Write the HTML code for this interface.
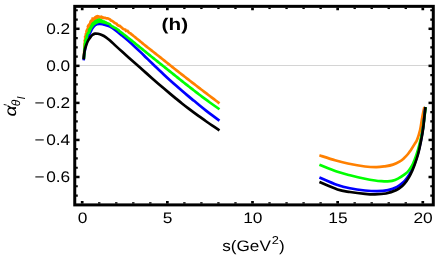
<!DOCTYPE html>
<html><head><meta charset="utf-8"><title>plot</title>
<style>
html,body{margin:0;padding:0;background:#fff;}
body{width:436px;height:262px;overflow:hidden;}
svg{display:block;}
text{font-family:"Liberation Sans",sans-serif;fill:#000;}
</style></head><body>
<svg width="436" height="262" viewBox="0 0 436 262" style="will-change:transform;opacity:0.999" text-rendering="geometricPrecision">
<rect x="0" y="0" width="436" height="262" fill="#fff"/>
<line x1="74.75" y1="65.5" x2="433.3" y2="65.5" stroke="#d4d4d4" stroke-width="1"/>
<g fill="none" stroke-width="2.7" stroke-linecap="butt" stroke-linejoin="round">
<path d="M83.80 58.80 L83.88 57.50 L83.95 56.20 L84.03 54.91 L84.11 53.61 L84.18 52.31 L84.25 51.01 L84.32 49.71 L84.38 48.42 L84.45 47.12 L84.54 45.82 L84.63 44.52 L84.66 43.22 L84.97 41.95 L84.70 40.61 L85.23 39.36 L85.24 38.04 L85.16 36.69 L85.97 35.54 L85.82 34.15 L86.57 33.01 L86.47 31.65 L86.78 30.39 L87.44 29.21 L88.20 28.07 L87.87 26.60 L88.42 25.40 L89.34 24.37 L90.21 23.37 L90.48 22.05 L91.04 20.86 L92.34 20.30 L92.62 18.68 L94.20 18.64 L95.00 17.45 L96.10 16.67 L97.41 16.21 L98.79 16.43 L100.01 17.15 L101.41 16.71 L102.59 17.43 L103.83 17.81 L105.16 17.88 L106.35 18.45 L107.76 18.37 L108.99 18.85 L110.12 19.55 L111.02 20.64 L112.26 21.09 L113.41 21.71 L114.32 22.70 L115.47 23.31 L116.65 23.89 L117.44 25.05 L118.58 25.68 L119.94 25.98 L120.82 27.00 L121.93 27.68 L122.80 28.72 L123.98 29.30 L125.33 29.62 L125.98 30.97 L127.57 30.96 L128.44 31.98 L129.35 32.94 L130.59 33.46 L131.52 34.38 L132.58 35.14 L133.56 35.99 L134.58 36.79 L135.60 37.61 L136.60 38.43 L137.61 39.25 L138.61 40.08 L139.62 40.90 L140.62 41.73 L141.63 42.55 L142.63 43.38 L143.64 44.20 L144.65 45.02 L145.66 45.84 L146.67 46.65 L147.69 47.46 L148.72 48.26 L149.74 49.06 L150.77 49.86 L151.79 50.66 L152.81 51.47 L153.83 52.27 L154.85 53.08 L155.87 53.89 L156.89 54.69 L157.91 55.50 L158.92 56.31 L159.94 57.12 L160.96 57.93 L161.97 58.74 L162.99 59.55 L164.01 60.36 L165.02 61.17 L166.04 61.98 L167.05 62.80 L168.07 63.61 L169.08 64.42 L170.10 65.23 L171.11 66.04 L172.13 66.86 L173.14 67.67 L174.16 68.48 L175.18 69.29 L176.20 70.09 L177.22 70.90 L178.25 71.69 L179.27 72.49 L180.30 73.29 L181.33 74.09 L182.35 74.88 L183.38 75.68 L184.41 76.48 L185.43 77.28 L186.46 78.07 L187.49 78.87 L188.51 79.67 L189.54 80.47 L190.57 81.26 L191.60 82.06 L192.62 82.85 L193.65 83.65 L194.68 84.44 L195.71 85.24 L196.74 86.03 L197.77 86.82 L198.80 87.62 L199.83 88.41 L200.86 89.20 L201.90 89.99 L202.93 90.78 L203.96 91.57 L204.99 92.36 L206.03 93.15 L207.06 93.94 L208.09 94.72 L209.13 95.51 L210.16 96.30 L211.20 97.08 L212.24 97.87 L213.28 98.65 L214.32 99.43 L215.36 100.21 L216.40 100.99 L217.44 101.77 L218.48 102.55 L219.50 103.32" stroke="#ff8000" stroke-linejoin="miter"/>
<path d="M87.60 33.00 C87.82 32.25 88.40 29.90 88.90 28.50 C89.40 27.10 89.92 25.85 90.60 24.60 C91.28 23.35 92.10 21.98 93.00 21.00 C93.90 20.02 95.08 19.28 96.00 18.70 C96.92 18.12 97.67 17.70 98.50 17.50 C99.33 17.30 100.08 17.43 101.00 17.50 C101.92 17.57 103.50 17.83 104.00 17.90" stroke="#ff8000"/>
<path d="M83.70 60.30 C83.85 58.92 84.25 54.55 84.60 52.00 C84.95 49.45 85.30 47.25 85.80 45.00 C86.30 42.75 86.88 40.55 87.60 38.50 C88.32 36.45 89.35 34.42 90.15 32.70 C90.95 30.98 91.56 29.48 92.40 28.20 C93.24 26.92 94.05 25.70 95.20 25.00 C96.35 24.30 98.00 24.12 99.30 24.00 C100.60 23.88 101.88 24.12 103.00 24.30 C104.12 24.48 104.83 24.71 106.00 25.10 C107.17 25.49 108.33 25.72 110.00 26.65 C111.67 27.58 114.00 29.19 116.00 30.66 C118.00 32.13 120.00 33.84 122.00 35.48 C124.00 37.13 126.00 38.78 128.00 40.53 C130.00 42.27 132.00 44.09 134.00 45.94 C136.00 47.79 138.00 49.70 140.00 51.62 C142.00 53.53 144.00 55.50 146.00 57.44 C148.00 59.38 150.00 61.35 152.00 63.27 C154.00 65.19 156.00 67.05 158.00 68.95 C160.00 70.85 162.00 72.79 164.00 74.67 C166.00 76.54 168.00 78.40 170.00 80.21 C172.00 82.03 174.00 83.79 176.00 85.55 C178.00 87.32 180.00 89.07 182.00 90.80 C184.00 92.52 186.00 94.22 188.00 95.89 C190.00 97.56 192.00 99.17 194.00 100.82 C196.00 102.46 198.00 104.14 200.00 105.76 C202.00 107.39 204.00 109.00 206.00 110.57 C208.00 112.14 209.75 113.49 212.00 115.17 C214.25 116.86 218.25 119.77 219.50 120.69" stroke="#0000ff"/>
<path d="M83.90 59.00 L83.99 57.70 L84.09 56.41 L84.18 55.11 L84.27 53.81 L84.36 52.52 L84.45 51.22 L84.52 49.92 L84.58 48.62 L84.67 47.33 L84.94 46.05 L84.92 44.74 L85.16 43.46 L85.46 42.20 L85.42 40.85 L85.97 39.65 L86.39 38.42 L86.89 37.22 L86.80 35.80 L87.45 34.66 L87.79 33.39 L88.79 32.38 L89.14 31.13 L89.09 29.72 L90.28 28.81 L90.83 27.65 L91.23 26.41 L91.91 25.31 L92.43 24.05 L93.25 23.00 L94.51 22.43 L95.34 21.35 L96.51 20.72 L97.72 20.16 L99.02 19.67 L100.34 20.14 L101.59 20.51 L102.69 21.26 L103.96 21.58 L105.07 22.26 L106.29 22.74 L107.42 23.39 L108.67 23.79 L109.88 24.29 L110.68 25.47 L111.76 26.18 L112.90 26.80 L114.03 27.45 L115.28 27.94 L116.38 28.64 L117.40 29.45 L118.51 30.13 L119.34 31.20 L120.47 31.85 L121.46 32.71 L122.53 33.44 L123.56 34.23 L124.59 35.03 L125.61 35.83 L126.64 36.63 L127.66 37.44 L128.68 38.24 L129.70 39.05 L130.71 39.86 L131.73 40.67 L132.74 41.49 L133.76 42.30 L134.77 43.11 L135.78 43.93 L136.80 44.74 L137.81 45.56 L138.82 46.37 L139.83 47.19 L140.84 48.01 L141.85 48.83 L142.85 49.66 L143.86 50.48 L144.87 51.30 L145.87 52.12 L146.88 52.95 L147.89 53.77 L148.90 54.59 L149.90 55.41 L150.91 56.23 L151.92 57.05 L152.94 57.86 L153.95 58.67 L154.97 59.48 L155.99 60.29 L157.01 61.10 L158.02 61.91 L159.04 62.72 L160.05 63.53 L161.07 64.35 L162.08 65.16 L163.10 65.97 L164.11 66.78 L165.13 67.60 L166.14 68.41 L167.16 69.22 L168.17 70.04 L169.18 70.85 L170.20 71.66 L171.21 72.47 L172.23 73.28 L173.25 74.10 L174.26 74.91 L175.28 75.72 L176.29 76.53 L177.31 77.34 L178.32 78.15 L179.34 78.97 L180.36 79.78 L181.37 80.59 L182.39 81.39 L183.41 82.20 L184.43 83.01 L185.45 83.82 L186.47 84.62 L187.49 85.43 L188.51 86.23 L189.53 87.03 L190.56 87.83 L191.58 88.63 L192.61 89.43 L193.63 90.23 L194.66 91.03 L195.69 91.82 L196.72 92.61 L197.75 93.41 L198.78 94.20 L199.82 94.99 L200.85 95.77 L201.89 96.56 L202.93 97.34 L203.96 98.12 L205.01 98.90 L206.05 99.67 L207.10 100.44 L208.15 101.21 L209.20 101.98 L210.25 102.74 L211.31 103.50 L212.37 104.25 L213.43 105.00 L214.49 105.75 L215.55 106.50 L216.62 107.24 L217.68 107.99 L218.75 108.74 L219.50 109.26" stroke="#00ff00" stroke-linejoin="miter"/>
<path d="M88.50 33.50 C88.85 32.67 89.75 30.02 90.60 28.50 C91.45 26.98 92.27 25.53 93.60 24.40 C94.93 23.27 97.28 22.12 98.60 21.70 C99.92 21.28 100.60 21.78 101.50 21.90 C102.40 22.02 103.17 22.20 104.00 22.40 C104.83 22.60 106.08 22.98 106.50 23.10" stroke="#00ff00"/>
<path d="M83.60 59.40 C83.67 58.67 83.80 56.57 84.00 55.00 C84.20 53.43 84.45 51.58 84.80 50.00 C85.15 48.42 85.58 47.00 86.10 45.50 C86.62 44.00 87.23 42.32 87.90 41.00 C88.57 39.68 89.37 38.60 90.10 37.60 C90.83 36.60 91.48 35.67 92.30 35.00 C93.12 34.33 94.05 33.80 95.00 33.60 C95.95 33.40 96.87 33.57 98.00 33.80 C99.13 34.03 100.47 34.42 101.80 35.00 C103.13 35.58 104.63 36.38 106.00 37.30 C107.37 38.22 108.33 39.02 110.00 40.49 C111.67 41.97 114.00 44.28 116.00 46.13 C118.00 47.99 120.00 49.80 122.00 51.61 C124.00 53.42 126.00 55.22 128.00 57.00 C130.00 58.78 132.00 60.52 134.00 62.28 C136.00 64.04 138.00 65.77 140.00 67.54 C142.00 69.30 144.00 71.11 146.00 72.88 C148.00 74.66 150.00 76.43 152.00 78.18 C154.00 79.94 156.00 81.69 158.00 83.43 C160.00 85.16 162.00 86.87 164.00 88.57 C166.00 90.27 168.00 91.95 170.00 93.62 C172.00 95.29 174.00 96.95 176.00 98.59 C178.00 100.22 180.00 101.86 182.00 103.45 C184.00 105.04 186.00 106.60 188.00 108.12 C190.00 109.64 192.00 111.12 194.00 112.58 C196.00 114.05 198.00 115.48 200.00 116.92 C202.00 118.36 204.00 119.82 206.00 121.23 C208.00 122.64 209.75 123.87 212.00 125.39 C214.25 126.92 218.25 129.54 219.50 130.37" stroke="#000000"/>
<path d="M319.40 155.30 C322.00 156.13 330.27 158.93 335.00 160.30 C339.73 161.67 342.80 162.47 347.80 163.50 C352.80 164.53 360.22 165.88 365.00 166.50 C369.78 167.12 373.17 167.23 376.50 167.20 C379.83 167.17 382.25 166.73 385.00 166.30 C387.75 165.87 390.52 165.42 393.00 164.60 C395.48 163.78 398.03 162.50 399.90 161.40 C401.77 160.30 402.85 159.23 404.20 158.00 C405.55 156.77 406.93 155.27 408.00 154.00 C409.07 152.73 409.48 152.08 410.60 150.40 C411.72 148.72 413.60 145.72 414.70 143.90 C415.80 142.08 416.30 141.82 417.20 139.50 C418.10 137.18 419.33 133.25 420.10 130.00 C420.87 126.75 421.27 123.00 421.80 120.00 C422.33 117.00 422.87 114.17 423.30 112.00 C423.73 109.83 424.22 107.83 424.40 107.00" stroke="#ff8000"/>
<path d="M319.40 177.40 C322.42 178.67 332.40 183.18 337.50 185.00 C342.60 186.82 345.42 187.38 350.00 188.30 C354.58 189.22 360.50 190.02 365.00 190.50 C369.50 190.98 373.17 191.27 377.00 191.20 C380.83 191.13 384.67 190.80 388.00 190.10 C391.33 189.40 394.50 188.25 397.00 187.00 C399.50 185.75 401.33 184.10 403.00 182.60 C404.67 181.10 405.67 179.85 407.00 178.00 C408.33 176.15 409.67 174.08 411.00 171.50 C412.33 168.92 413.78 165.75 415.00 162.50 C416.22 159.25 417.30 155.75 418.30 152.00 C419.30 148.25 420.22 144.00 421.00 140.00 C421.78 136.00 422.40 132.33 423.00 128.00 C423.60 123.67 424.20 117.50 424.60 114.00 C425.00 110.50 425.27 108.17 425.40 107.00" stroke="#0000ff"/>
<path d="M319.40 164.70 C322.42 165.88 332.40 170.05 337.50 171.80 C342.60 173.55 345.42 174.05 350.00 175.20 C354.58 176.35 360.83 177.82 365.00 178.70 C369.17 179.58 372.25 180.08 375.00 180.50 C377.75 180.92 379.50 181.05 381.50 181.20 C383.50 181.35 385.25 181.45 387.00 181.40 C388.75 181.35 390.17 181.37 392.00 180.90 C393.83 180.43 395.83 179.72 398.00 178.60 C400.17 177.48 403.17 175.58 405.00 174.20 C406.83 172.82 407.67 172.03 409.00 170.30 C410.33 168.57 411.77 166.35 413.00 163.80 C414.23 161.25 415.35 158.13 416.40 155.00 C417.45 151.87 418.28 149.00 419.30 145.00 C420.32 141.00 421.60 136.00 422.50 131.00 C423.40 126.00 424.18 119.00 424.70 115.00 C425.22 111.00 425.49 108.33 425.65 107.00" stroke="#00ff00"/>
<path d="M319.40 182.00 C322.42 183.25 332.40 187.83 337.50 189.50 C342.60 191.17 345.42 191.27 350.00 192.00 C354.58 192.73 360.83 193.50 365.00 193.90 C369.17 194.30 371.50 194.47 375.00 194.40 C378.50 194.33 382.50 194.18 386.00 193.50 C389.50 192.82 393.33 191.50 396.00 190.30 C398.67 189.10 400.23 187.85 402.00 186.30 C403.77 184.75 405.18 182.97 406.60 181.00 C408.02 179.03 409.18 177.17 410.50 174.50 C411.82 171.83 413.23 168.42 414.50 165.00 C415.77 161.58 417.02 158.00 418.10 154.00 C419.18 150.00 420.15 145.33 421.00 141.00 C421.85 136.67 422.58 132.50 423.20 128.00 C423.82 123.50 424.32 117.50 424.70 114.00 C425.08 110.50 425.37 108.17 425.50 107.00" stroke="#000000"/>
</g>
<rect x="74.75" y="6.35" width="358.55" height="198.55" fill="none" stroke="#000" stroke-width="3.0"/>
<g stroke="#000">
<line x1="82.20" y1="203.60" x2="82.20" y2="201.00" stroke-width="2.7"/>
<line x1="82.20" y1="7.65" x2="82.20" y2="10.25" stroke-width="2.7"/>
<line x1="99.23" y1="203.60" x2="99.23" y2="202.20" stroke-width="2.4"/>
<line x1="99.23" y1="7.65" x2="99.23" y2="9.05" stroke-width="2.4"/>
<line x1="116.26" y1="203.60" x2="116.26" y2="202.20" stroke-width="2.4"/>
<line x1="116.26" y1="7.65" x2="116.26" y2="9.05" stroke-width="2.4"/>
<line x1="133.29" y1="203.60" x2="133.29" y2="202.20" stroke-width="2.4"/>
<line x1="133.29" y1="7.65" x2="133.29" y2="9.05" stroke-width="2.4"/>
<line x1="150.32" y1="203.60" x2="150.32" y2="202.20" stroke-width="2.4"/>
<line x1="150.32" y1="7.65" x2="150.32" y2="9.05" stroke-width="2.4"/>
<line x1="167.35" y1="203.60" x2="167.35" y2="201.00" stroke-width="2.7"/>
<line x1="167.35" y1="7.65" x2="167.35" y2="10.25" stroke-width="2.7"/>
<line x1="184.38" y1="203.60" x2="184.38" y2="202.20" stroke-width="2.4"/>
<line x1="184.38" y1="7.65" x2="184.38" y2="9.05" stroke-width="2.4"/>
<line x1="201.41" y1="203.60" x2="201.41" y2="202.20" stroke-width="2.4"/>
<line x1="201.41" y1="7.65" x2="201.41" y2="9.05" stroke-width="2.4"/>
<line x1="218.44" y1="203.60" x2="218.44" y2="202.20" stroke-width="2.4"/>
<line x1="218.44" y1="7.65" x2="218.44" y2="9.05" stroke-width="2.4"/>
<line x1="235.47" y1="203.60" x2="235.47" y2="202.20" stroke-width="2.4"/>
<line x1="235.47" y1="7.65" x2="235.47" y2="9.05" stroke-width="2.4"/>
<line x1="252.50" y1="203.60" x2="252.50" y2="201.00" stroke-width="2.7"/>
<line x1="252.50" y1="7.65" x2="252.50" y2="10.25" stroke-width="2.7"/>
<line x1="269.53" y1="203.60" x2="269.53" y2="202.20" stroke-width="2.4"/>
<line x1="269.53" y1="7.65" x2="269.53" y2="9.05" stroke-width="2.4"/>
<line x1="286.56" y1="203.60" x2="286.56" y2="202.20" stroke-width="2.4"/>
<line x1="286.56" y1="7.65" x2="286.56" y2="9.05" stroke-width="2.4"/>
<line x1="303.59" y1="203.60" x2="303.59" y2="202.20" stroke-width="2.4"/>
<line x1="303.59" y1="7.65" x2="303.59" y2="9.05" stroke-width="2.4"/>
<line x1="320.62" y1="203.60" x2="320.62" y2="202.20" stroke-width="2.4"/>
<line x1="320.62" y1="7.65" x2="320.62" y2="9.05" stroke-width="2.4"/>
<line x1="337.65" y1="203.60" x2="337.65" y2="201.00" stroke-width="2.7"/>
<line x1="337.65" y1="7.65" x2="337.65" y2="10.25" stroke-width="2.7"/>
<line x1="354.68" y1="203.60" x2="354.68" y2="202.20" stroke-width="2.4"/>
<line x1="354.68" y1="7.65" x2="354.68" y2="9.05" stroke-width="2.4"/>
<line x1="371.71" y1="203.60" x2="371.71" y2="202.20" stroke-width="2.4"/>
<line x1="371.71" y1="7.65" x2="371.71" y2="9.05" stroke-width="2.4"/>
<line x1="388.74" y1="203.60" x2="388.74" y2="202.20" stroke-width="2.4"/>
<line x1="388.74" y1="7.65" x2="388.74" y2="9.05" stroke-width="2.4"/>
<line x1="405.77" y1="203.60" x2="405.77" y2="202.20" stroke-width="2.4"/>
<line x1="405.77" y1="7.65" x2="405.77" y2="9.05" stroke-width="2.4"/>
<line x1="422.80" y1="203.60" x2="422.80" y2="201.00" stroke-width="2.7"/>
<line x1="422.80" y1="7.65" x2="422.80" y2="10.25" stroke-width="2.7"/>
<line x1="76.05" y1="195.53" x2="77.75" y2="195.53" stroke-width="2.2"/>
<line x1="432.00" y1="195.53" x2="430.30" y2="195.53" stroke-width="2.2"/>
<line x1="76.05" y1="186.26" x2="77.75" y2="186.26" stroke-width="2.2"/>
<line x1="432.00" y1="186.26" x2="430.30" y2="186.26" stroke-width="2.2"/>
<line x1="76.05" y1="177.00" x2="79.55" y2="177.00" stroke-width="2.5"/>
<line x1="432.00" y1="177.00" x2="428.50" y2="177.00" stroke-width="2.5"/>
<line x1="76.05" y1="167.74" x2="77.75" y2="167.74" stroke-width="2.2"/>
<line x1="432.00" y1="167.74" x2="430.30" y2="167.74" stroke-width="2.2"/>
<line x1="76.05" y1="158.47" x2="77.75" y2="158.47" stroke-width="2.2"/>
<line x1="432.00" y1="158.47" x2="430.30" y2="158.47" stroke-width="2.2"/>
<line x1="76.05" y1="149.21" x2="77.75" y2="149.21" stroke-width="2.2"/>
<line x1="432.00" y1="149.21" x2="430.30" y2="149.21" stroke-width="2.2"/>
<line x1="76.05" y1="139.95" x2="79.55" y2="139.95" stroke-width="2.5"/>
<line x1="432.00" y1="139.95" x2="428.50" y2="139.95" stroke-width="2.5"/>
<line x1="76.05" y1="130.69" x2="77.75" y2="130.69" stroke-width="2.2"/>
<line x1="432.00" y1="130.69" x2="430.30" y2="130.69" stroke-width="2.2"/>
<line x1="76.05" y1="121.43" x2="77.75" y2="121.43" stroke-width="2.2"/>
<line x1="432.00" y1="121.43" x2="430.30" y2="121.43" stroke-width="2.2"/>
<line x1="76.05" y1="112.16" x2="77.75" y2="112.16" stroke-width="2.2"/>
<line x1="432.00" y1="112.16" x2="430.30" y2="112.16" stroke-width="2.2"/>
<line x1="76.05" y1="102.90" x2="79.55" y2="102.90" stroke-width="2.5"/>
<line x1="432.00" y1="102.90" x2="428.50" y2="102.90" stroke-width="2.5"/>
<line x1="76.05" y1="93.64" x2="77.75" y2="93.64" stroke-width="2.2"/>
<line x1="432.00" y1="93.64" x2="430.30" y2="93.64" stroke-width="2.2"/>
<line x1="76.05" y1="84.38" x2="77.75" y2="84.38" stroke-width="2.2"/>
<line x1="432.00" y1="84.38" x2="430.30" y2="84.38" stroke-width="2.2"/>
<line x1="76.05" y1="75.11" x2="77.75" y2="75.11" stroke-width="2.2"/>
<line x1="432.00" y1="75.11" x2="430.30" y2="75.11" stroke-width="2.2"/>
<line x1="76.05" y1="65.85" x2="79.55" y2="65.85" stroke-width="2.5"/>
<line x1="432.00" y1="65.85" x2="428.50" y2="65.85" stroke-width="2.5"/>
<line x1="76.05" y1="56.59" x2="77.75" y2="56.59" stroke-width="2.2"/>
<line x1="432.00" y1="56.59" x2="430.30" y2="56.59" stroke-width="2.2"/>
<line x1="76.05" y1="47.32" x2="77.75" y2="47.32" stroke-width="2.2"/>
<line x1="432.00" y1="47.32" x2="430.30" y2="47.32" stroke-width="2.2"/>
<line x1="76.05" y1="38.06" x2="77.75" y2="38.06" stroke-width="2.2"/>
<line x1="432.00" y1="38.06" x2="430.30" y2="38.06" stroke-width="2.2"/>
<line x1="76.05" y1="28.80" x2="79.55" y2="28.80" stroke-width="2.5"/>
<line x1="432.00" y1="28.80" x2="428.50" y2="28.80" stroke-width="2.5"/>
<line x1="76.05" y1="19.54" x2="77.75" y2="19.54" stroke-width="2.2"/>
<line x1="432.00" y1="19.54" x2="430.30" y2="19.54" stroke-width="2.2"/>
<line x1="76.05" y1="10.27" x2="77.75" y2="10.27" stroke-width="2.2"/>
<line x1="432.00" y1="10.27" x2="430.30" y2="10.27" stroke-width="2.2"/>
</g>
<text transform="translate(70.2 33.55) scale(1.13 1)" text-anchor="end" font-size="15.3">0.2</text>
<text transform="translate(70.2 70.60) scale(1.13 1)" text-anchor="end" font-size="15.3">0.0</text>
<text transform="translate(70.2 107.65) scale(1.13 1)" text-anchor="end" font-size="15.3">0.2</text>
<text transform="translate(34.45 107.65) scale(1.13 1)" font-size="15.3">−</text>
<text transform="translate(70.2 144.70) scale(1.13 1)" text-anchor="end" font-size="15.3">0.4</text>
<text transform="translate(34.45 144.70) scale(1.13 1)" font-size="15.3">−</text>
<text transform="translate(70.2 181.75) scale(1.13 1)" text-anchor="end" font-size="15.3">0.6</text>
<text transform="translate(34.45 181.75) scale(1.13 1)" font-size="15.3">−</text>
<text transform="translate(82.50 223.2) scale(1.15 1)" text-anchor="middle" font-size="15.1">0</text>
<text transform="translate(167.65 223.2) scale(1.15 1)" text-anchor="middle" font-size="15.1">5</text>
<text transform="translate(252.80 223.2) scale(1.15 1)" text-anchor="middle" font-size="15.1">10</text>
<text transform="translate(337.95 223.2) scale(1.15 1)" text-anchor="middle" font-size="15.1">15</text>
<text transform="translate(423.10 223.2) scale(1.15 1)" text-anchor="middle" font-size="15.1">20</text>
<g transform="translate(222.2 251) scale(1.13 1)" font-size="15.2">
<text x="0" y="0">s(GeV</text><text x="43.8" y="-7.2" font-size="11.4">2</text><text x="50.2" y="0">)</text>
</g>
<text transform="translate(161.6 30.4) scale(1.22 1)" font-size="17" font-weight="bold">(h)</text>
<g transform="translate(15.6 116.6) rotate(-90)" font-style="italic">
<text x="0" y="0" font-size="16" transform="scale(1.22 1)">α</text>
<text x="10.2" y="-3.3" font-size="12">′</text>
<text x="10.4" y="4.2" font-size="12">θ</text>
<text x="17.4" y="9.6" font-size="11">l</text>
</g>
</svg>
</body></html>
